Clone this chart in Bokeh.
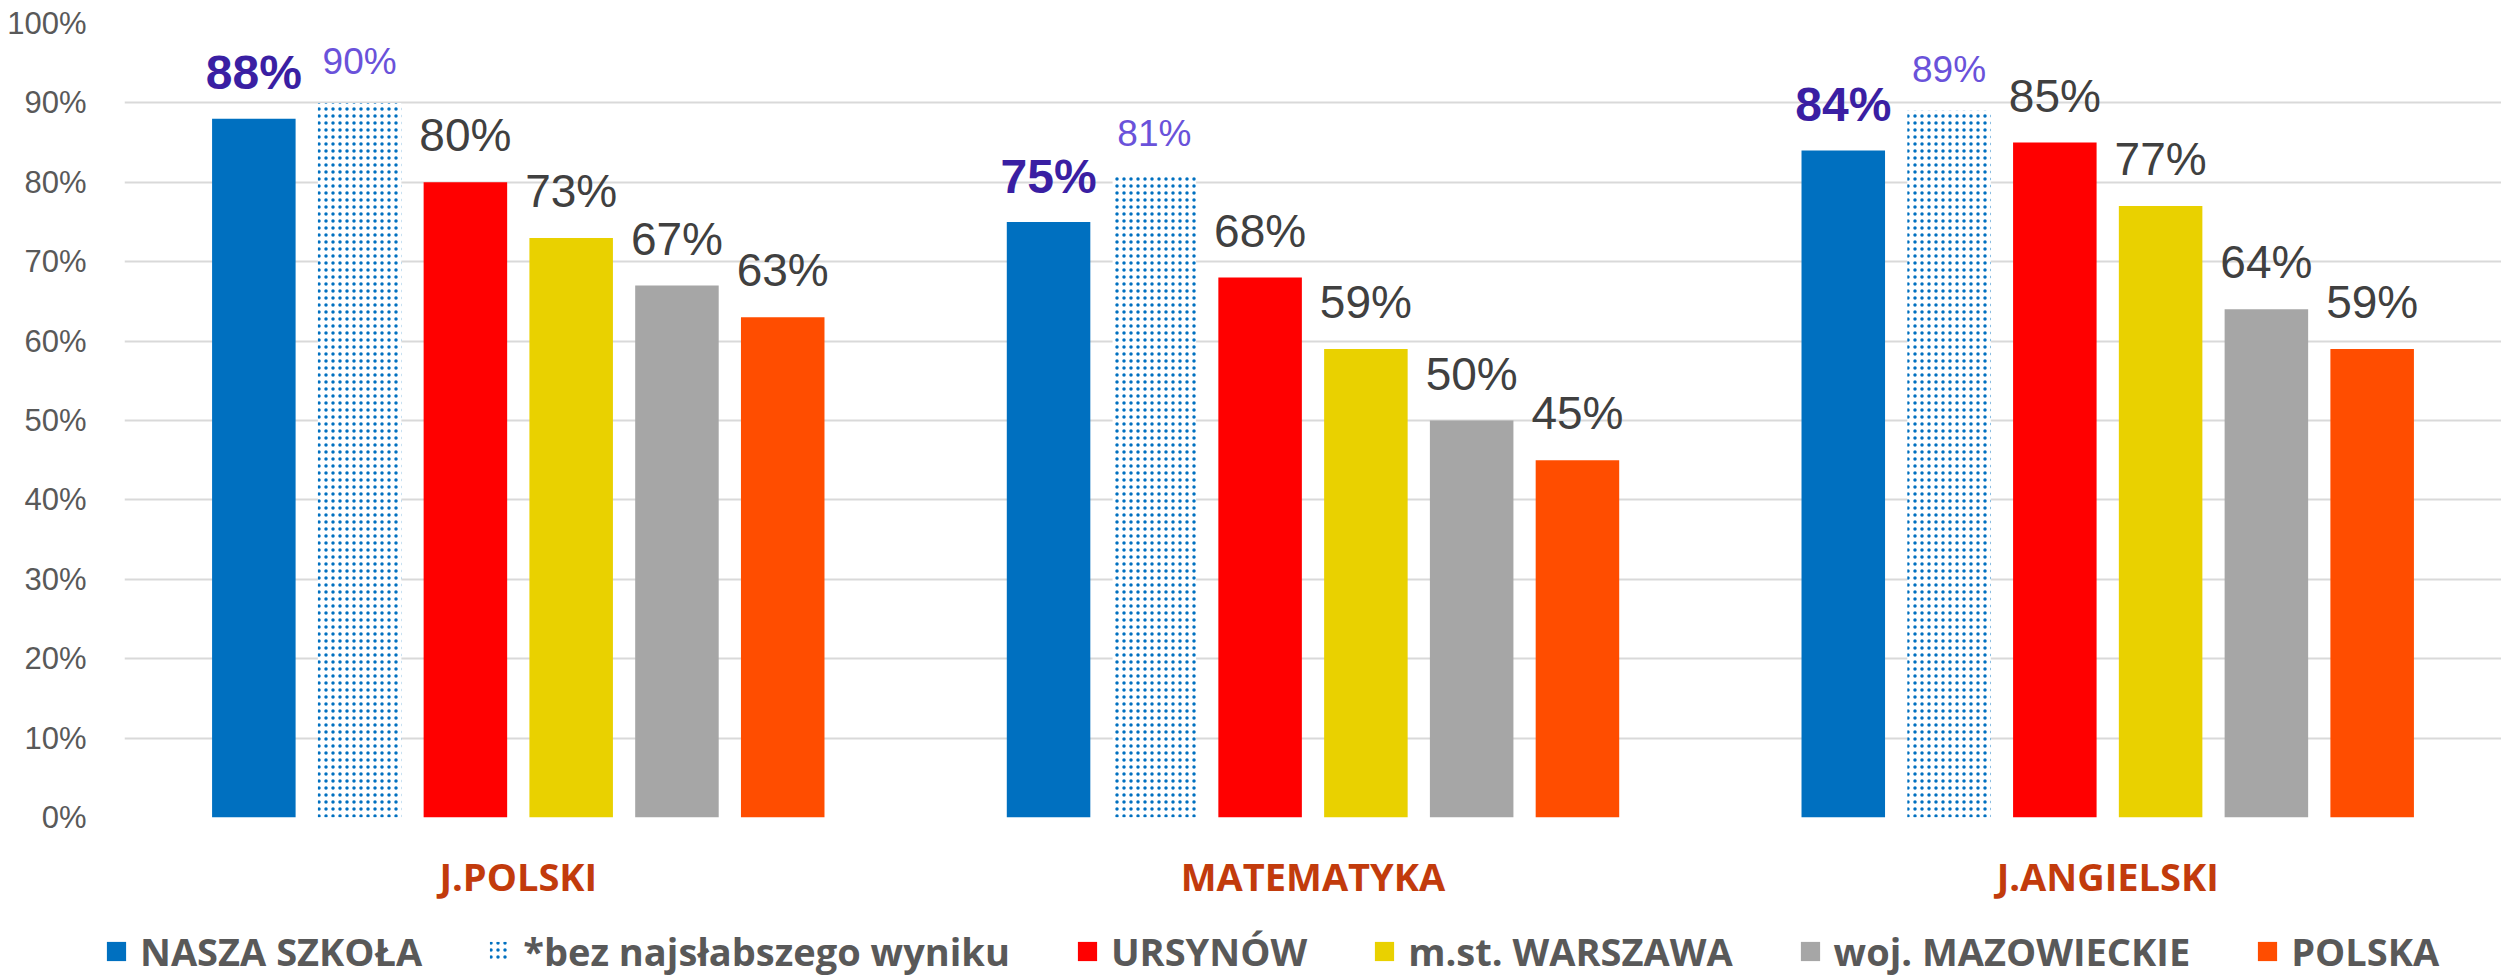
from bokeh.plotting import figure
from bokeh.models import (FactorRange, Range1d, FixedTicker, NumeralTickFormatter,
                          Legend, LegendItem, ColumnDataSource)
from bokeh.transform import dodge
from bokeh.core.properties import value
from bokeh.embed import file_html
from bokeh.resources import INLINE

# ---------------- data ----------------
categories = ["J.POLSKI", "MATEMATYKA", "J.ANGIELSKI"]
series_names = ["NASZA SZKOŁA", "*bez najsłabszego wyniku", "URSYNÓW",
                "m.st. WARSZAWA", "woj. MAZOWIECKIE", "POLSKA"]
nasza_szkola = [0.88, 0.75, 0.84]
bez_najslabszego = [0.90, 0.81, 0.89]
ursynow = [0.80, 0.68, 0.85]
warszawa = [0.73, 0.59, 0.77]
mazowieckie = [0.67, 0.50, 0.64]
polska = [0.63, 0.45, 0.59]
y_ticks = [0.0, 0.1, 0.2, 0.3, 0.4, 0.5, 0.6, 0.7, 0.8, 0.9, 1.0]

series_values = [nasza_szkola, bez_najslabszego, ursynow, warszawa, mazowieckie, polska]

# ---------------- styles ----------------
fill_colors = ["#0070C0", "white", "#FF0000", "#E9D100", "#A6A6A6", "#FF4D00"]
label_colors = ["#3A1FA3", "#6A52DA", "#404040", "#404040", "#404040", "#404040"]
label_sizes = ["48px", "37px", "46px", "46px", "46px", "46px"]
label_styles = ["bold", "normal", "normal", "normal", "normal", "normal"]
label_offsets = [-46, -41, -47, -47, -47, -47]
BAR_PITCH = 0.1331
BAR_WIDTH = 0.1051

data = {"cat": categories}
for i, vals in enumerate(series_values):
    data[f"s{i}"] = vals
    data[f"t{i}"] = [f"{round(v * 100)}%" for v in vals]
src = ColumnDataSource(data)


def add_bars(fig, idx):
    xpos = dodge("cat", (idx - 2.5) * BAR_PITCH, range=fig.x_range)
    if idx == 1:
        r = fig.vbar(x=xpos, top=f"s{idx}", width=BAR_WIDTH, source=src,
                     fill_color="white", line_color=None,
                     hatch_pattern="dot", hatch_color="#0070C0",
                     hatch_scale=7, hatch_weight=3)
    else:
        r = fig.vbar(x=xpos, top=f"s{idx}", width=BAR_WIDTH, source=src,
                     fill_color=fill_colors[idx], line_color=None)
    return r, xpos


# ---------------- main chart ----------------
p = figure(x_range=FactorRange(factors=categories, range_padding=-0.003),
           y_range=Range1d(0, 1.0),
           width=2501, height=917, output_backend="svg", toolbar_location=None,
           min_border_left=124, min_border_right=0, min_border_top=23,
           min_border_bottom=100)
p.outline_line_color = None

for i in range(len(series_names)):
    r, xpos = add_bars(p, i)
    p.text(x=xpos, y=f"s{i}", text=f"t{i}", source=src,
           text_align="center", text_baseline="alphabetic",
           y_offset=label_offsets[i],
           text_font=value("Liberation Sans"),
           text_font_size=value(label_sizes[i]),
           text_font_style=label_styles[i],
           text_color=label_colors[i])

p.yaxis.ticker = FixedTicker(ticks=y_ticks)
p.yaxis.formatter = NumeralTickFormatter(format="0%")
p.yaxis.axis_line_color = None
p.yaxis.major_tick_line_color = None
p.yaxis.minor_tick_line_color = None
p.yaxis.major_label_text_font = "Liberation Sans"
p.yaxis.major_label_text_font_size = "31px"
p.yaxis.major_label_text_color = "#595959"
p.yaxis.major_label_standoff = 32

p.ygrid.grid_line_color = "#D9D9D9"
p.ygrid.grid_line_width = 2
p.xgrid.grid_line_color = None

p.xaxis.axis_line_color = None
p.xaxis.major_tick_line_color = None
p.xaxis.minor_tick_line_color = None
p.xaxis.major_label_text_font = "Open Sans"
p.xaxis.major_label_text_font_style = "bold"
p.xaxis.major_label_text_font_size = "38px"
p.xaxis.major_label_text_color = "#C23B0C"
p.xaxis.major_label_standoff = 26

# ---------------- legend strip ----------------
lp = figure(x_range=FactorRange(factors=categories), y_range=Range1d(5, 6),
            width=2501, height=60, output_backend="svg", toolbar_location=None,
            x_axis_location=None, y_axis_location=None,
            min_border_left=0, min_border_right=0, min_border_top=0,
            min_border_bottom=0)
lp.outline_line_color = None
lp.xgrid.grid_line_color = None
lp.ygrid.grid_line_color = None

items = []
for i, name in enumerate(series_names):
    r, _ = add_bars(lp, i)
    items.append(LegendItem(label=name, renderers=[r]))

legend = Legend(items=items, orientation="horizontal", location=(104, 0),
                glyph_width=24, glyph_height=24, label_standoff=12, spacing=65,
                label_text_font="Open Sans", label_text_font_size="38px",
                label_text_font_style="bold", label_text_color="#595959",
                border_line_color=None, background_fill_alpha=0,
                padding=0, margin=0)
lp.add_layout(legend, "center")

open("out.html", "w").write(file_html([p, lp], INLINE))
